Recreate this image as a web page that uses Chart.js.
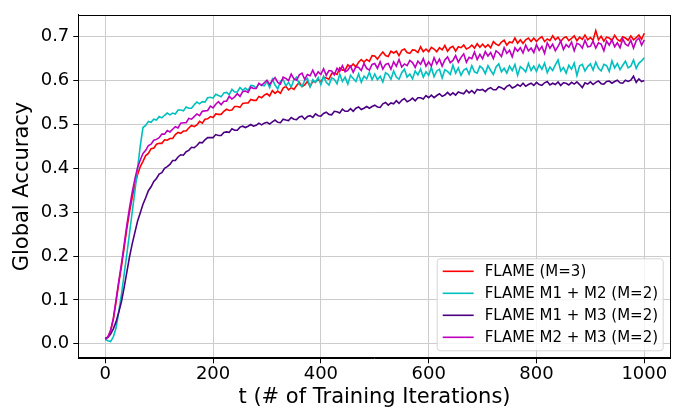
<!DOCTYPE html>
<html><head><meta charset="utf-8">
<script src="https://cdn.jsdelivr.net/npm/chart.js@4"></script>
<style>html,body{margin:0;padding:0;background:#fff}#wrap{width:689px;height:410px}</style>
</head><body><div id="wrap"><canvas id="c" width="689" height="410"></canvas></div>
<script>
// ---- data (sampled every STEP training iterations) ----
const STEP = 5;
const SERIES_LABELS = ['FLAME (M=3)', 'FLAME M1 + M2 (M=2)', 'FLAME M1 + M3 (M=2)', 'FLAME M2 + M3 (M=2)'];
const X_TICKS = [0, 200, 400, 600, 800, 1000];
const Y_TICKS = [0.0, 0.1, 0.2, 0.3, 0.4, 0.5, 0.6, 0.7];
const X_TITLE = 't (# of Training Iterations)';
const Y_TITLE = 'Global Accuracy';

const flameM3 = [
0.012,0.016,0.030,0.056,0.095,0.138,0.176,0.218,0.262,0.300,0.334,0.362,0.386,0.404,0.416,0.429,0.434,0.445,0.446,0.455,
0.457,0.457,0.465,0.464,0.468,0.468,0.477,0.482,0.480,0.485,0.485,0.492,0.498,0.495,0.499,0.507,0.503,0.512,0.513,0.518,
0.516,0.524,0.523,0.523,0.530,0.535,0.532,0.533,0.541,0.541,0.539,0.548,0.549,0.549,0.557,0.555,0.555,0.564,0.561,0.567,
0.570,0.565,0.577,0.571,0.576,0.571,0.583,0.587,0.579,0.584,0.580,0.589,0.596,0.586,0.590,0.598,0.587,0.598,0.597,0.602,
0.597,0.608,0.606,0.603,0.616,0.617,0.614,0.629,0.624,0.624,0.636,0.631,0.638,0.631,0.642,0.648,0.642,0.648,0.644,0.657,
0.656,0.649,0.658,0.665,0.657,0.655,0.667,0.663,0.667,0.657,0.669,0.672,0.664,0.662,0.670,0.669,0.664,0.677,0.666,0.672,
0.666,0.676,0.672,0.666,0.675,0.670,0.680,0.667,0.675,0.678,0.667,0.677,0.675,0.681,0.672,0.675,0.681,0.674,0.684,0.676,
0.683,0.676,0.682,0.675,0.689,0.683,0.680,0.688,0.692,0.681,0.688,0.686,0.697,0.685,0.693,0.685,0.693,0.697,0.689,0.697,
0.689,0.696,0.700,0.689,0.695,0.691,0.702,0.693,0.699,0.689,0.697,0.700,0.691,0.696,0.702,0.691,0.699,0.694,0.704,0.693,
0.698,0.692,0.714,0.693,0.701,0.690,0.699,0.697,0.691,0.703,0.694,0.690,0.700,0.697,0.692,0.702,0.693,0.698,0.704,0.694,
0.708];

const flameM1M2 = [
0.010,0.007,0.005,0.016,0.036,0.072,0.112,0.158,0.204,0.252,0.300,0.348,0.400,0.452,0.493,0.498,0.507,0.505,0.512,0.510,
0.518,0.515,0.521,0.526,0.522,0.526,0.524,0.533,0.533,0.531,0.540,0.537,0.537,0.545,0.551,0.547,0.552,0.551,0.561,0.562,
0.560,0.569,0.566,0.563,0.572,0.573,0.568,0.580,0.574,0.574,0.584,0.578,0.583,0.577,0.589,0.588,0.583,0.592,0.590,0.588,
0.598,0.584,0.603,0.590,0.581,0.598,0.603,0.588,0.596,0.585,0.602,0.608,0.591,0.587,0.600,0.605,0.586,0.602,0.596,0.607,
0.591,0.610,0.596,0.590,0.606,0.603,0.593,0.615,0.598,0.608,0.592,0.612,0.605,0.598,0.615,0.596,0.610,0.604,0.619,0.602,
0.615,0.602,0.610,0.597,0.618,0.614,0.603,0.622,0.608,0.603,0.618,0.626,0.608,0.615,0.604,0.622,0.613,0.626,0.608,0.620,
0.612,0.630,0.609,0.622,0.626,0.606,0.625,0.621,0.614,0.635,0.617,0.629,0.612,0.624,0.628,0.615,0.634,0.620,0.617,0.633,
0.628,0.616,0.634,0.623,0.614,0.631,0.638,0.620,0.628,0.617,0.633,0.623,0.637,0.612,0.632,0.627,0.620,0.639,0.623,0.633,
0.621,0.636,0.626,0.640,0.618,0.631,0.623,0.636,0.647,0.622,0.630,0.617,0.635,0.626,0.640,0.612,0.634,0.637,0.622,0.632,
0.638,0.624,0.642,0.628,0.622,0.637,0.634,0.621,0.645,0.629,0.639,0.625,0.635,0.644,0.629,0.633,0.647,0.628,0.640,0.645,
0.652];

const flameM1M3 = [
0.012,0.015,0.022,0.034,0.050,0.072,0.096,0.128,0.163,0.198,0.228,0.254,0.280,0.299,0.318,0.333,0.349,0.358,0.370,0.377,
0.387,0.390,0.400,0.404,0.409,0.418,0.418,0.426,0.431,0.430,0.438,0.441,0.448,0.447,0.452,0.459,0.458,0.465,0.470,0.470,
0.470,0.477,0.475,0.475,0.482,0.483,0.482,0.490,0.487,0.487,0.494,0.496,0.493,0.496,0.500,0.496,0.498,0.503,0.499,0.503,
0.505,0.501,0.506,0.510,0.505,0.504,0.512,0.510,0.509,0.516,0.512,0.511,0.517,0.519,0.512,0.518,0.520,0.516,0.524,0.520,
0.519,0.525,0.528,0.523,0.522,0.530,0.529,0.526,0.535,0.530,0.530,0.536,0.530,0.537,0.540,0.534,0.537,0.541,0.537,0.541,
0.544,0.540,0.539,0.547,0.550,0.544,0.549,0.547,0.554,0.548,0.555,0.559,0.552,0.555,0.560,0.554,0.561,0.561,0.558,0.566,
0.561,0.567,0.561,0.566,0.570,0.564,0.567,0.573,0.567,0.572,0.567,0.574,0.572,0.570,0.578,0.572,0.577,0.571,0.580,0.578,
0.580,0.575,0.581,0.584,0.579,0.579,0.586,0.584,0.580,0.587,0.590,0.583,0.586,0.591,0.587,0.594,0.587,0.591,0.594,0.589,
0.596,0.591,0.589,0.595,0.598,0.590,0.594,0.591,0.597,0.589,0.595,0.594,0.590,0.596,0.592,0.597,0.591,0.584,0.595,0.592,
0.597,0.591,0.596,0.599,0.593,0.592,0.598,0.599,0.594,0.598,0.601,0.595,0.594,0.601,0.598,0.601,0.610,0.596,0.604,0.598,
0.600];

const flameM2M3 = [
0.010,0.015,0.031,0.058,0.100,0.142,0.182,0.226,0.270,0.310,0.346,0.376,0.402,0.419,0.434,0.441,0.452,0.455,0.464,0.466,
0.470,0.478,0.478,0.486,0.483,0.489,0.495,0.492,0.503,0.504,0.504,0.514,0.512,0.518,0.524,0.520,0.530,0.531,0.532,0.542,
0.538,0.546,0.552,0.545,0.553,0.553,0.564,0.558,0.563,0.570,0.564,0.575,0.576,0.573,0.585,0.582,0.582,0.594,0.589,0.595,
0.601,0.591,0.600,0.607,0.596,0.592,0.608,0.605,0.600,0.615,0.604,0.601,0.613,0.617,0.603,0.614,0.611,0.624,0.610,0.620,
0.614,0.627,0.612,0.623,0.622,0.613,0.628,0.621,0.634,0.620,0.624,0.633,0.619,0.632,0.630,0.623,0.639,0.628,0.624,0.637,
0.639,0.628,0.643,0.626,0.637,0.639,0.626,0.643,0.633,0.648,0.631,0.638,0.634,0.646,0.641,0.630,0.644,0.637,0.650,0.633,
0.643,0.633,0.652,0.638,0.649,0.633,0.647,0.654,0.641,0.646,0.657,0.642,0.653,0.661,0.642,0.653,0.650,0.665,0.648,0.660,
0.650,0.666,0.656,0.664,0.650,0.668,0.663,0.655,0.675,0.662,0.669,0.654,0.675,0.667,0.675,0.663,0.681,0.668,0.674,0.664,
0.682,0.669,0.678,0.662,0.686,0.674,0.683,0.668,0.678,0.690,0.671,0.682,0.676,0.688,0.668,0.685,0.682,0.674,0.692,0.677,
0.678,0.690,0.674,0.686,0.683,0.668,0.690,0.681,0.693,0.677,0.686,0.675,0.695,0.683,0.679,0.692,0.674,0.691,0.697,0.681,
0.693];

const SERIES = [flameM3, flameM1M2, flameM1M3, flameM2M3];
const COLORS = ['#ff0000', '#00bfbf', '#4b0082', '#bf00bf'];

// ---- chart ----
const FONT = 'DejaVu Sans';
const toPoints = arr => arr.map((v, i) => ({ x: i * STEP, y: v }));

const framePlugin = {
  id: 'frame',
  afterDatasetsDraw(chart) {
    const { ctx, chartArea: a } = chart;
    ctx.save();
    ctx.strokeStyle = '#000';
    ctx.lineWidth = 1;
    ctx.strokeRect(Math.round(a.left) + 0.5, Math.round(a.top) + 0.5,
                   Math.round(a.right) - Math.round(a.left) - 1, Math.round(a.bottom) - Math.round(a.top) - 1);
    ctx.restore();
  }
};

const legendPlugin = {
  id: 'boxLegend',
  afterDraw(chart) {
    const { ctx, chartArea: a } = chart;
    const w = 226, h = 92, r = 3;
    const x0 = a.right - 8 - w, y0 = a.bottom - 8 - h;
    ctx.save();
    ctx.beginPath();
    ctx.roundRect(x0 + 0.5, y0 + 0.5, w, h, r);
    ctx.fillStyle = 'rgba(255,255,255,0.8)';
    ctx.fill();
    ctx.strokeStyle = '#d6d6d6';
    ctx.lineWidth = 1;
    ctx.stroke();
    ctx.font = '15px "' + FONT + '"';
    ctx.textBaseline = 'middle';
    ctx.textAlign = 'left';
    chart.data.datasets.forEach((ds, i) => {
      const yy = y0 + 13 + i * 22;
      ctx.beginPath();
      ctx.moveTo(x0 + 6, yy);
      ctx.lineTo(x0 + 37, yy);
      ctx.strokeStyle = ds.borderColor;
      ctx.lineWidth = 1.6;
      ctx.stroke();
      ctx.fillStyle = '#000';
      ctx.fillText(ds.label, x0 + 48, yy + 1);
    });
    ctx.restore();
  }
};

new Chart(document.getElementById('c'), {
  type: 'line',
  data: {
    datasets: SERIES.map((s, i) => ({
      label: SERIES_LABELS[i],
      data: toPoints(s),
      borderColor: COLORS[i],
      backgroundColor: COLORS[i],
      borderWidth: 1.6,
      pointRadius: 0,
      tension: 0,
      fill: false,
      order: SERIES.length - i
    }))
  },
  options: {
    responsive: false,
    animation: false,
    devicePixelRatio: 1,
    layout: { padding: { left: 0, right: 18.3, top: 5.7, bottom: 0 } },
    plugins: { legend: { display: false }, tooltip: { enabled: false } },
    scales: {
      x: {
        type: 'linear', min: -50, max: 1049,
        afterBuildTicks: s => { s.ticks = X_TICKS.map(v => ({ value: v })); },
        afterFit: s => { s.height = 51.7; },
        ticks: { font: { family: FONT, size: 18 }, color: '#000', padding: 0, maxRotation: 0, autoSkip: false,
                 callback: v => String(v) },
        grid: { color: '#cccccc', lineWidth: 1, tickColor: '#000', tickLength: 5, drawTicks: true },
        border: { color: '#000', width: 1 },
        title: { display: true, text: X_TITLE, color: '#000', font: { family: FONT, size: 21 }, padding: 0 }
      },
      y: {
        type: 'linear', min: -0.033, max: 0.75,
        afterBuildTicks: s => { s.ticks = Y_TICKS.map(v => ({ value: v })); },
        afterFit: s => { s.width = 78.3; },
        ticks: { font: { family: FONT, size: 18 }, color: '#000', padding: 4, autoSkip: false,
                 callback: v => Number(v).toFixed(1) },
        grid: { color: '#cccccc', lineWidth: 1, tickColor: '#000', tickLength: 5, drawTicks: true },
        border: { color: '#000', width: 1 },
        title: { display: true, text: Y_TITLE, color: '#000', font: { family: FONT, size: 21 }, padding: { top: 10, bottom: 0 } }
      }
    }
  },
  plugins: [framePlugin, legendPlugin]
});
</script>
</body></html>
